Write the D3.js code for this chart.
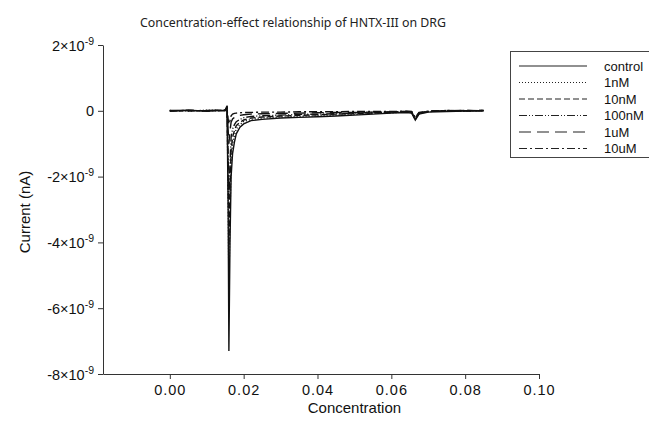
<!DOCTYPE html>
<html>
<head>
<meta charset="utf-8">
<script src="https://cdn.jsdelivr.net/npm/d3@7"></script>
<style>
  body { margin: 0; background: #fff; }
  svg { display: block; }
  .axis text { font-family: "Liberation Sans", Arial, sans-serif; font-size: 14.5px; fill: #111; }
  .axis path, .axis line { stroke: #333; }
</style>
</head>
<body>
<script>
// concentration values (x) shared by every trace
var conc = [0, 0.005, 0.010, 0.0150, 0.0155, 0.0158, 0.0160, 0.0163, 0.0166, 0.0170,
            0.0175, 0.0180, 0.0190, 0.0200, 0.0220, 0.0250, 0.0300, 0.0350, 0.0400, 0.0450,
            0.0500, 0.0550, 0.0600, 0.0640, 0.0655, 0.0665, 0.0675, 0.0700, 0.0750, 0.0800, 0.0850];

// currents in units of 1e-9
var control = [0, 0.02, -0.01, 0.02, 0.15, -3.0, -7.3, -4.0, -2.0, -1.3,
               -0.95, -0.7, -0.5, -0.4, -0.3, -0.26, -0.22, -0.2, -0.18, -0.16,
               -0.13, -0.1, -0.07, -0.05, -0.07, -0.28, -0.1, -0.04, -0.02, -0.01, 0];
var nM1 =     [0.01, -0.01, 0.02, 0.01, 0.12, -2.5, -5.4, -3.2, -1.6, -1.0,
               -0.75, -0.55, -0.42, -0.33, -0.26, -0.22, -0.19, -0.17, -0.15, -0.13,
               -0.11, -0.08, -0.06, -0.04, -0.06, -0.26, -0.09, -0.03, 0.01, -0.01, 0.01];
var nM10 =    [-0.01, 0.01, 0, 0.02, 0.1, -2.0, -4.1, -2.4, -1.2, -0.8,
               -0.6, -0.45, -0.35, -0.28, -0.22, -0.19, -0.16, -0.14, -0.12, -0.1,
               -0.09, -0.07, -0.05, -0.03, -0.05, -0.25, -0.08, -0.02, 0, 0.01, 0];
var nM100 =   [0, 0.01, -0.01, 0.01, 0.08, -1.4, -2.7, -1.6, -0.8, -0.55,
               -0.42, -0.33, -0.26, -0.21, -0.17, -0.15, -0.13, -0.11, -0.1, -0.09,
               -0.07, -0.05, -0.04, -0.02, -0.04, -0.24, -0.07, -0.02, 0.01, 0, 0.01];
var uM1 =     [0.01, 0, 0.01, 0.02, 0.06, -0.6, -1.0, -0.6, -0.35, -0.25,
               -0.2, -0.17, -0.14, -0.12, -0.1, -0.09, -0.08, -0.07, -0.06, -0.05,
               -0.05, -0.04, -0.03, -0.02, -0.03, -0.22, -0.06, -0.01, 0, 0.01, 0];
var uM10 =    [0, 0.01, 0, 0.01, 0.05, -0.25, -0.4, -0.3, -0.15, -0.1,
               -0.08, -0.07, -0.06, -0.05, -0.05, -0.04, -0.04, -0.03, -0.03, -0.03,
               -0.02, -0.02, -0.02, -0.01, -0.02, -0.2, -0.05, -0.01, 0, 0, 0.01];

var seriesNames = ["control", "1nM", "10nM", "100nM", "1uM", "10uM"];
var seriesData = [control, nM1, nM10, nM100, uM1, uM10];
var dashes = ["none", "1,2", "6,3", "8,2,1,2,1,2", "12,6", "8,3,2,3"];

var xTicks = [0, 0.02, 0.04, 0.06, 0.08, 0.10];
var yTicks = [2, 0, -2, -4, -6, -8];

var width = 649, height = 423;
var svg = d3.select("body").append("svg")
    .attr("width", width)
    .attr("height", height);

var x = d3.scaleLinear().domain([-0.0181, 0.1]).range([103, 539]);
var y = d3.scaleLinear().domain([-8, 2]).range([374, 45]);

// axes
var xAxis = svg.append("g")
    .attr("class", "axis")
    .attr("transform", "translate(0,374)")
    .call(d3.axisBottom(x).tickValues(xTicks).tickSize(5).tickSizeOuter(0).tickFormat(d3.format(".2f")));
xAxis.selectAll("text").attr("dy", "1.05em").attr("y", 6).style("letter-spacing", "1px");

var yAxis = svg.append("g")
    .attr("class", "axis")
    .attr("transform", "translate(103,0)")
    .call(d3.axisLeft(y).tickValues(yTicks).tickSize(5).tickSizeOuter(0).tickFormat(""));

yAxis.selectAll(".tick").each(function(d) {
  var t = d3.select(this).append("text")
      .attr("x", -9)
      .attr("dy", "0.35em")
      .attr("text-anchor", "end");
  if (d === 0) {
    t.text("0");
  } else {
    t.append("tspan").text(d + "\u00d710");
    t.append("tspan").attr("dy", "-0.55em").style("font-size", "10.5px").text("-9");
  }
});

// traces
var line = d3.line()
    .x(function(d, i) { return x(conc[i]); })
    .y(function(d) { return y(d); });

svg.append("g").selectAll("path")
    .data(seriesData)
  .enter().append("path")
    .attr("d", line)
    .attr("fill", "none")
    .attr("stroke", "#111")
    .attr("stroke-width", 1.4)
    .attr("stroke-dasharray", function(d, i) { return dashes[i]; });

// title and labels
svg.append("text")
    .attr("x", 140)
    .attr("y", 27)
    .attr("textLength", 306)
    .attr("lengthAdjust", "spacingAndGlyphs")
    .style("font-family", "'Noto Sans', 'Open Sans', sans-serif")
    .style("font-size", "12.5px")
    .style("fill", "#222")
    .text("Concentration-effect relationship of HNTX-III on DRG");

svg.append("text")
    .attr("x", x(0.05))
    .attr("y", 413)
    .attr("text-anchor", "middle")
    .style("font-family", "'Liberation Sans', Arial, sans-serif")
    .style("font-size", "15px")
    .style("fill", "#111")
    .text("Concentration");

svg.append("text")
    .attr("transform", "translate(30,212) rotate(-90)")
    .attr("text-anchor", "middle")
    .style("font-family", "'Liberation Sans', Arial, sans-serif")
    .style("font-size", "15px")
    .style("fill", "#111")
    .text("Current (nA)");

// legend
var legend = svg.append("g");
legend.append("rect")
    .attr("x", 510.5).attr("y", 51.5)
    .attr("width", 150).attr("height", 106)
    .attr("fill", "#fff")
    .attr("stroke", "#444");

var rows = legend.selectAll(".row")
    .data(seriesNames)
  .enter().append("g")
    .attr("transform", function(d, i) { return "translate(0," + (66 + i * 16.5) + ")"; });

rows.append("line")
    .attr("x1", 519).attr("x2", 587)
    .attr("stroke", "#222")
    .attr("stroke-width", 1.2)
    .attr("stroke-dasharray", function(d, i) { return dashes[i]; });

rows.append("text")
    .attr("x", 604)
    .attr("dy", "0.35em")
    .style("font-family", "'Liberation Sans', Arial, sans-serif")
    .style("font-size", "13px")
    .style("fill", "#111")
    .text(function(d) { return d; });
</script>
</body>
</html>
